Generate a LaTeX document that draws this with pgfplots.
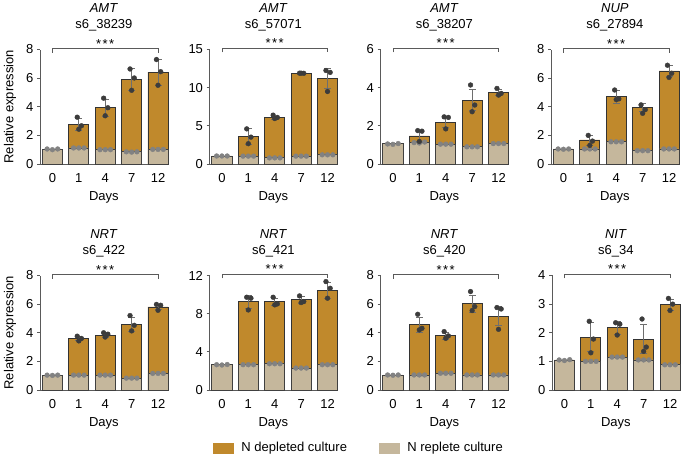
\documentclass[border=0pt]{standalone}
\usepackage{fontspec}
\setmainfont{Liberation Sans}
\usepackage{pgfplots}
\usepackage{pgfplotstable}
\pgfplotsset{compat=1.18}

\definecolor{depcol}{RGB}{192,137,44}
\definecolor{repcol}{RGB}{197,183,156}
\definecolor{errcol}{RGB}{110,110,110}
\definecolor{ddot}{RGB}{60,60,60}
\definecolor{rdot}{RGB}{130,130,130}
\definecolor{axcol}{RGB}{90,90,90}

% x = 0,1,2,3,4 stands for days 0,1,4,7,12
\pgfplotstableread{
x dep dsd d1 d2 d3 rep r1 r2 r3
0 nan 0 nan nan nan 1.00 1.05 1.00 1.05
1 2.75 0.43 3.27 2.67 2.43 1.12 1.12 1.12 1.12
2 3.92 0.62 4.60 3.93 3.37 1.00 1.00 1.00 1.00
3 5.90 0.75 6.64 6.01 5.15 0.85 0.85 0.83 0.85
4 6.42 0.90 7.30 6.45 5.50 1.02 1.02 1.02 1.02
}\tabA
\pgfplotstableread{
x dep dsd d1 d2 d3 rep r1 r2 r3
0 nan 0 nan nan nan 1.05 1.05 1.05 1.05
1 3.60 1.00 4.60 3.52 2.66 1.03 1.03 1.03 1.03
2 6.05 0.25 6.40 6.10 5.95 0.80 0.80 0.80 0.80
3 11.85 0.05 11.90 11.88 11.90 1.03 1.03 1.03 1.03
4 11.20 1.30 12.25 12.00 9.50 1.20 1.20 1.20 1.20
}\tabB
\pgfplotstableread{
x dep dsd d1 d2 d3 rep r1 r2 r3
0 nan 0 nan nan nan 1.07 1.05 1.03 1.07
1 1.47 0.30 1.75 1.72 1.18 1.14 1.12 1.10 1.15
2 2.20 0.30 2.47 2.44 1.84 1.04 1.04 1.04 1.04
3 3.35 0.56 4.14 3.09 2.74 0.90 0.90 0.90 0.90
4 3.75 0.15 3.96 3.70 3.61 1.07 1.07 1.07 1.07
}\tabC
\pgfplotstableread{
x dep dsd d1 d2 d3 rep r1 r2 r3
0 nan 0 nan nan nan 1.05 1.05 1.03 1.05
1 1.68 0.35 2.00 1.60 1.30 1.05 1.05 1.05 1.05
2 4.70 0.45 5.17 4.55 4.50 1.55 1.55 1.55 1.55
3 3.95 0.30 4.13 3.80 3.54 0.93 0.93 0.93 0.93
4 6.50 0.40 6.90 6.34 6.05 1.05 1.05 1.05 1.05
}\tabD
\pgfplotstableread{
x dep dsd d1 d2 d3 rep r1 r2 r3
0 nan 0 nan nan nan 1.04 1.04 1.02 1.04
1 3.62 0.15 3.76 3.60 3.43 1.04 1.04 1.04 1.04
2 3.83 0.15 4.00 3.90 3.70 1.04 1.04 1.04 1.04
3 4.60 0.50 5.20 4.52 4.13 0.83 0.83 0.83 0.83
4 5.80 0.20 5.98 5.92 5.57 1.16 1.16 1.16 1.16
}\tabE
\pgfplotstableread{
x dep dsd d1 d2 d3 rep r1 r2 r3
0 nan 0 nan nan nan 2.65 2.65 2.62 2.67
1 9.25 0.70 9.72 9.62 8.39 2.65 2.65 2.65 2.65
2 9.25 0.40 9.72 9.02 8.92 2.75 2.75 2.75 2.75
3 9.45 0.35 9.86 9.27 9.16 2.30 2.30 2.30 2.30
4 10.42 0.85 11.36 10.66 9.62 2.65 2.65 2.65 2.65
}\tabF
\pgfplotstableread{
x dep dsd d1 d2 d3 rep r1 r2 r3
0 nan 0 nan nan nan 1.05 1.05 1.03 1.05
1 4.55 0.55 5.29 4.31 4.20 1.05 1.05 1.05 1.05
2 3.78 0.22 4.08 3.78 3.61 1.17 1.17 1.17 1.17
3 6.04 0.60 6.88 5.83 5.55 1.05 1.05 1.05 1.05
4 5.17 0.65 5.76 5.66 4.24 1.05 1.05 1.05 1.05
}\tabG
\pgfplotstableread{
x dep dsd d1 d2 d3 rep r1 r2 r3
0 nan 0 nan nan nan 1.05 1.05 1.03 1.06
1 1.85 0.50 2.40 1.78 1.30 1.00 1.00 1.00 1.00
2 2.17 0.22 2.35 2.30 1.92 1.15 1.15 1.15 1.15
3 1.78 0.50 2.48 1.50 1.35 1.05 1.05 1.05 1.05
4 2.98 0.20 3.20 3.00 2.78 0.88 0.88 0.88 0.88
}\tabH

\newcommand{\fnt}{\fontsize{13}{15.5}\selectfont}

% #1 left, #2 bottom, #3 table, #4 ymax, #5 yticks, #6 gene, #7 id, #8 ylabel
\newcommand{\panel}[8]{%
\begin{axis}[
  at={(#1,#2)}, anchor=south west,
  scale only axis, width=127.8pt, height=114.5pt,
  xmin=-0.47, xmax=4.37, ymin=0, ymax=#4,
  ytick={#5}, xtick={0,1,2,3,4}, xticklabels={0,1,4,7,12},
  axis x line*=bottom, axis y line*=left,
  axis line style={axcol, line width=0.8pt},
  tick style={axcol, line width=0.8pt},
  tick align=outside, major tick length=3pt,
  x tick style={draw=none},
  ticklabel style={font=\fnt, text=black},
  xticklabel style={yshift=-3pt},
  /pgf/number format/assume math mode=true,
  xlabel={Days}, ylabel={#8},
  label style={font=\fnt},
  xlabel style={at={(axis description cs:0.5,-0.29)}, anchor=center},
  ylabel style={at={(axis description cs:-0.235,0.5)}, anchor=center},
  title={\textit{#6}\\#7},
  title style={font=\fontsize{13}{16.5}\selectfont, align=center, at={(axis description cs:0.5,1)}, anchor=center, yshift=26pt},
  clip=false,
]
\addplot[ybar, bar width=0.76, bar shift=0pt, fill=depcol, draw=black!80, line width=0.8pt,
  error bars/.cd, y dir=both, y explicit,
  error bar style={errcol, line width=0.8pt},
  error mark options={errcol, line width=0.8pt, mark size=3.5pt, rotate=90}]
  table[x=x, y=dep, y error=dsd] {#3};
\addplot[ybar, bar width=0.76, bar shift=0pt, fill=repcol, draw=black!75, line width=0.8pt]
  table[x=x, y=rep] {#3};
\addplot[only marks, mark=*, mark size=2.4pt, color=rdot] table[x expr=\thisrow{x}-0.2, y=r1] {#3};
\addplot[only marks, mark=*, mark size=2.4pt, color=rdot] table[x expr=\thisrow{x}, y=r2] {#3};
\addplot[only marks, mark=*, mark size=2.4pt, color=rdot] table[x expr=\thisrow{x}+0.2, y=r3] {#3};
\addplot[only marks, mark=*, mark size=2.4pt, color=ddot] table[x expr=\thisrow{x}-0.06, y=d1] {#3};
\addplot[only marks, mark=*, mark size=2.4pt, color=ddot] table[x expr=\thisrow{x}+0.1, y=d2] {#3};
\addplot[only marks, mark=*, mark size=2.4pt, color=ddot] table[x expr=\thisrow{x}, y=d3] {#3};
\draw[axcol, line width=0.8pt] ([yshift=-3pt]axis cs:0,#4) -- ([yshift=1.5pt]axis cs:0,#4) -- ([yshift=1.5pt]axis cs:4,#4) -- ([yshift=-3pt]axis cs:4,#4);
\node[anchor=base, font=\fnt, inner sep=0pt] at ([yshift=1.5pt]axis cs:2,#4) {*\kern1.5pt*\kern1.5pt*};
\end{axis}%
}

\begin{document}
\begin{tikzpicture}[font=\fnt]
\useasboundingbox (0pt,0pt) rectangle (685pt,454pt);
\panel{40pt}{290pt}{\tabA}{8}{0,2,4,6,8}{AMT}{s6\_38239}{Relative expression}
\panel{209.5pt}{290pt}{\tabB}{15}{0,5,10,15}{AMT}{s6\_57071}{}
\panel{380.5pt}{290pt}{\tabC}{6}{0,2,4,6}{AMT}{s6\_38207}{}
\panel{551pt}{290pt}{\tabD}{8}{0,2,4,6,8}{NUP}{s6\_27894}{}
\panel{40pt}{64pt}{\tabE}{8}{0,2,4,6,8}{NRT}{s6\_422}{Relative expression}
\panel{209.5pt}{64pt}{\tabF}{12}{0,4,8,12}{NRT}{s6\_421}{}
\panel{380.5pt}{64pt}{\tabG}{8}{0,2,4,6,8}{NRT}{s6\_420}{}
\panel{552pt}{64pt}{\tabH}{4}{0,1,2,3,4}{NIT}{s6\_34}{}
\begin{axis}[at={(0pt,0pt)}, anchor=south west, scale only axis, width=685pt, height=20pt,
  hide axis, xmin=0, xmax=1, ymin=0, ymax=1,
  legend columns=2,
  legend style={at={(axis description cs:0.524,0.3)}, anchor=center, draw=none, fill=none,
    font=\fnt,
    /tikz/every odd column/.append style={column sep=6pt},
    /tikz/every even column/.append style={column sep=30pt}},
  legend image code/.code={\fill[#1] (0pt,-5pt) rectangle (20pt,5pt);},
]
\addlegendimage{depcol}
\addlegendentry{N depleted culture}
\addlegendimage{repcol}
\addlegendentry{N replete culture}
\end{axis}
\end{tikzpicture}
\end{document}
